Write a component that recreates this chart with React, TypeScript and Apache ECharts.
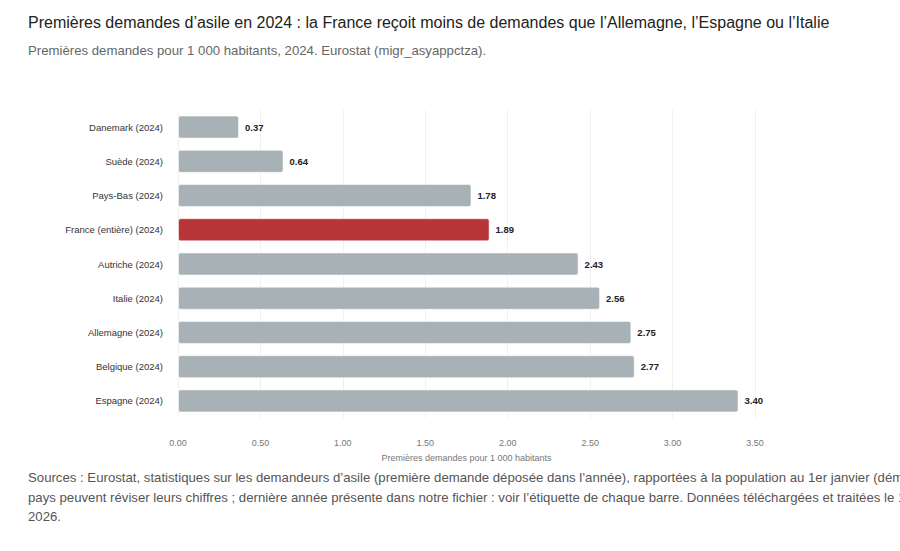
import React, { useEffect, useRef } from "react";
import * as echarts from "echarts";

const categories = [
  "Danemark (2024)",
  "Suède (2024)",
  "Pays-Bas (2024)",
  "France (entière) (2024)",
  "Autriche (2024)",
  "Italie (2024)",
  "Allemagne (2024)",
  "Belgique (2024)",
  "Espagne (2024)",
];
const values = [0.37, 0.64, 1.78, 1.89, 2.43, 2.56, 2.75, 2.77, 3.4];
const highlight = "France (entière) (2024)";

const titleText =
  "Premières demandes d’asile en 2024 : la France reçoit moins de demandes que l’Allemagne, l’Espagne ou l’Italie";
const subtitleText = "Premières demandes pour 1 000 habitants, 2024. Eurostat (migr_asyappctza).";
const axisName = "Premières demandes pour 1 000 habitants";
const footerLines = [
  "Sources : Eurostat, statistiques sur les demandeurs d’asile (première demande déposée dans l’année), rapportées à la population au 1er janvier (démographie). Certains",
  "pays peuvent réviser leurs chiffres ; dernière année présente dans notre fichier : voir l’étiquette de chaque barre. Données téléchargées et traitées le 15 janvier",
  "2026.",
];

export default function App() {
  const ref = useRef<HTMLDivElement>(null);
  useEffect(() => {
    document.body.style.margin = "0";
    const chart = echarts.init(ref.current!, null, { renderer: "svg" });
    const font = "'Liberation Sans', Arial, Helvetica, sans-serif";
    chart.setOption({
      animation: false,
      backgroundColor: "#ffffff",
      textStyle: { fontFamily: font },
      title: {
        text: titleText,
        subtext: subtitleText,
        left: 23,
        top: 9,
        itemGap: 14,
        textStyle: { fontSize: 16, fontWeight: "normal", color: "#222", fontFamily: font },
        subtextStyle: { fontSize: 13.2, color: "#666", fontFamily: font },
      },
      grid: { left: 178, right: 145, top: 110, bottom: 133 },
      xAxis: {
        type: "value",
        min: 0,
        max: 3.5,
        interval: 0.5,
        name: axisName,
        nameLocation: "middle",
        nameGap: 35,
        nameTextStyle: { fontSize: 9, color: "#777" },
        axisLine: { show: false },
        axisTick: { show: false },
        axisLabel: {
          fontSize: 9,
          color: "#777",
          margin: 20,
          formatter: (v: number) => v.toFixed(2),
        },
        splitLine: { show: true, lineStyle: { color: "#f0f0f0", width: 1 } },
      },
      yAxis: {
        type: "category",
        data: categories,
        inverse: true,
        axisLine: { show: false },
        axisTick: { show: false },
        axisLabel: { fontSize: 9.5, color: "#333", margin: 15 },
        splitLine: { show: false },
      },
      series: [
        {
          type: "bar",
          data: values.map((v, i) => ({
            value: v,
            itemStyle: {
              color: categories[i] === highlight ? "#b83637" : "#a8b2b6",
            },
          })),
          barWidth: 23,
          itemStyle: { borderRadius: 2, borderColor: "rgba(255,255,255,0.5)", borderWidth: 1 },
          label: {
            show: true,
            position: "right",
            distance: 6,
            fontSize: 9.5,
            fontWeight: "bold",
            color: "#222",
            formatter: (p: any) => Number(p.value).toFixed(2),
          },
        },
      ],
      graphic: footerLines.map((t, i) => ({
        type: "text",
        left: 28,
        top: 471 + i * 19.5,
        style: { text: t, fontSize: 13.2, fill: "#555", fontFamily: font },
      })),
    });
    return () => chart.dispose();
  }, []);
  return <div ref={ref} style={{ width: 900, height: 551 }} />;
}
